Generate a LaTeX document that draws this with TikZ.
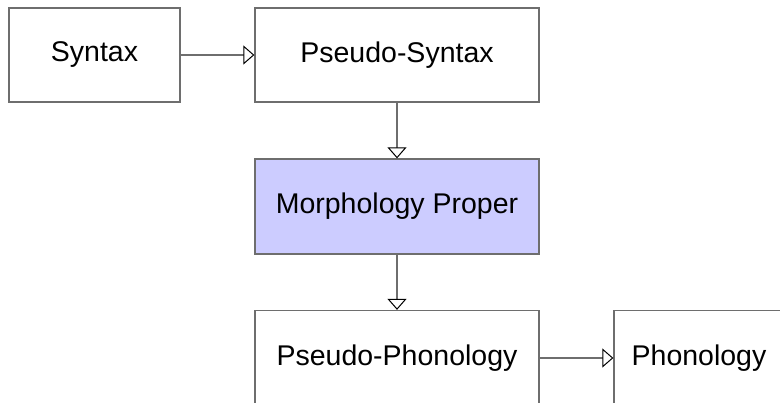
\documentclass[tikz,border=0pt]{standalone}
\usepackage{fontspec}
\setmainfont{Liberation Sans}
\usetikzlibrary{arrows.meta}
\definecolor{linegray}{RGB}{110,110,110}
\definecolor{morphfill}{RGB}{204,204,255}
\tikzset{
  box/.style={draw=linegray, line width=1.3pt, fill=white, inner sep=0pt,
    font=\fontsize{28.5}{34}\selectfont, text=black},
  flow/.style={draw=linegray, line width=1.3pt,
    -{Triangle[open, fill=white, color=black, length=11pt, width=19pt, line width=1pt]}}
}
\begin{document}
\begin{tikzpicture}[x=1pt, y=-1pt]
\useasboundingbox (0,0) rectangle (780,403);
\node[box, minimum width=171pt, minimum height=94pt] (syn) at (94.5,55) {Syntax};
\node[box, minimum width=284pt, minimum height=94pt] (psyn) at (397,55) {Pseudo-Syntax};
\node[box, fill=morphfill, minimum width=284pt, minimum height=95pt] (morph) at (397,206.5) {Morphology Proper};
\node[box, minimum width=284pt, minimum height=95pt] (pphon) at (397,358) {Pseudo-Phonology};
\node[box, minimum width=170pt, minimum height=95pt] (phon) at (699,358) {Phonology};
\draw[flow] (syn.east) -- (psyn.west);
\draw[flow] (psyn.south) -- (morph.north);
\draw[flow] (morph.south) -- (pphon.north);
\draw[flow] (pphon.east) -- (phon.west);
\end{tikzpicture}
\end{document}
